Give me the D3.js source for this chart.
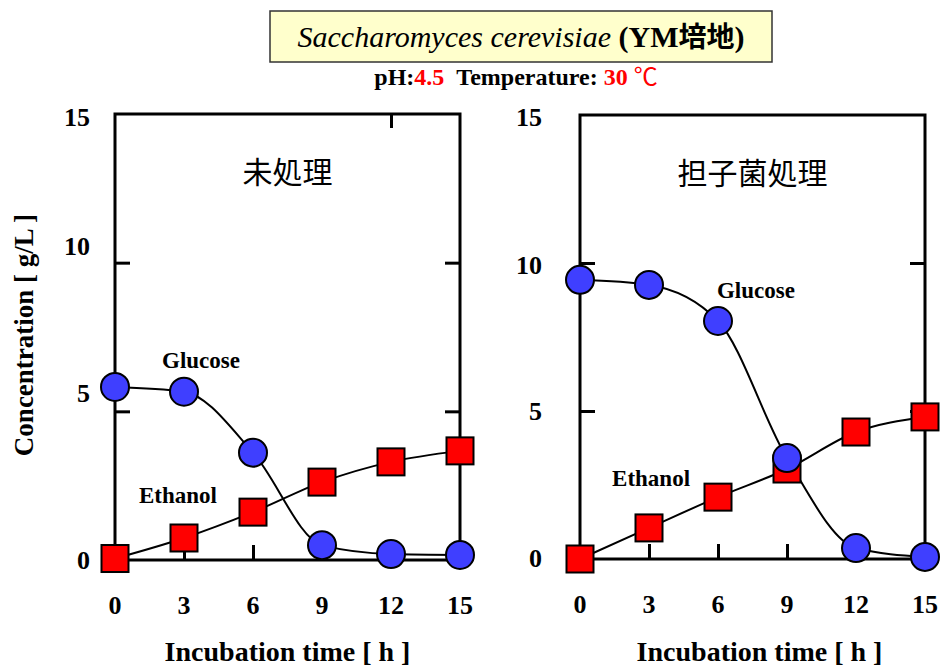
<!DOCTYPE html>
<html>
<head>
<meta charset="utf-8">
<script src="https://cdn.jsdelivr.net/npm/d3@7"></script>
<style>
  body { margin: 0; background: #fff; }
  svg { display: block; }
</style>
</head>
<body>
<svg id="chart" width="941" height="666"></svg>
<script>
// Sampling times (h)
const times = [0, 3, 6, 9, 12, 15];

// Untreated medium (g/L)
const glucoseUntreated = [5.82, 5.66, 3.61, 0.50, 0.20, 0.17];
const ethanolUntreated = [0.05, 0.74, 1.61, 2.62, 3.30, 3.67];

// Basidiomycete-treated medium (g/L)
const glucoseTreated = [9.43, 9.26, 8.04, 3.41, 0.37, 0.07];
const ethanolTreated = [0.00, 1.05, 2.09, 3.04, 4.29, 4.80];

// Axis ticks
const xTickLabels = [0, 3, 6, 9, 12, 15];
const yTickLabels = [0, 5, 10, 15];
const panelTitles = ["未処理", "担子菌処理"];
const seriesNames = ["Glucose", "Ethanol"];

const serif = "'Liberation Serif', 'Times New Roman', 'Noto Sans CJK JP', serif";
const cjk = "'Noto Sans CJK JP', 'Noto Sans CJK SC', sans-serif";

const svg = d3.select("#chart");

// ---- heading ----
svg.append("rect")
  .attr("x", 270).attr("y", 11).attr("width", 502).attr("height", 51)
  .attr("fill", "#ffffcc").attr("stroke", "#333").attr("stroke-width", 1.5);

const head = svg.append("text")
  .attr("x", 521).attr("y", 47)
  .attr("text-anchor", "middle")
  .attr("font-family", serif)
  .attr("font-size", 30)
  .attr("fill", "#000");
head.append("tspan").attr("font-style", "italic").text("Saccharomyces cerevisiae");
head.append("tspan").attr("font-weight", "bold").text(" (YM");
head.append("tspan").attr("font-family", cjk).attr("font-weight", "bold").attr("font-size", 28).text("培地");
head.append("tspan").attr("font-weight", "bold").text(")");

const sub = svg.append("text")
  .attr("x", 516).attr("y", 85)
  .attr("text-anchor", "middle")
  .attr("font-family", serif)
  .attr("font-weight", "bold")
  .attr("font-size", 24);
sub.append("tspan").attr("fill", "#000").text("pH:");
sub.append("tspan").attr("fill", "#ff0000").text("4.5");
sub.append("tspan").attr("fill", "#000").text("\u00a0\u00a0Temperature:\u00a0");
sub.append("tspan").attr("fill", "#ff0000").text("30\u00a0");
sub.append("tspan").attr("fill", "#ff0000").attr("font-family", cjk).attr("font-weight", "normal").text("℃");

// ---- panels ----
const panels = [
  {
    x0: 115, x1: 460, y0: 114, y1: 560,
    title: panelTitles[0],
    glucose: glucoseUntreated, ethanol: ethanolUntreated,
    labelRight: 90,
    labelShift: { 0: 0, 5: -18, 10: -17, 15: 3 },
    topTicks: [12],
    xTitleShift: 0,
    glucoseLabel: [3.74, 6.73], ethanolLabel: [2.74, 2.19]
  },
  {
    x0: 580, x1: 925, y0: 115, y1: 559,
    title: panelTitles[1],
    glucose: glucoseTreated, ethanol: ethanolTreated,
    labelRight: 542,
    labelShift: { 0: -1, 5: 0, 10: 2, 15: 2 },
    topTicks: [],
    xTitleShift: 7,
    glucoseLabel: [7.65, 9.09], ethanolLabel: [3.09, 2.74]
  }
];

panels.forEach(p => {
  const x = d3.scaleLinear().domain([0, 15]).range([p.x0, p.x1]);
  const y = d3.scaleLinear().domain([0, 15]).range([p.y1, p.y0]);
  const g = svg.append("g");

  // inward tick marks on every side
  const tickStyle = sel => {
    sel.select(".domain").remove();
    sel.selectAll(".tick line").attr("stroke", "#000").attr("stroke-width", 3);
  };
  g.append("g").attr("transform", `translate(0,${p.y1})`)
    .call(d3.axisBottom(x).tickValues([3, 6, 9, 12]).tickSize(-15).tickFormat(""))
    .call(tickStyle);
  if (p.topTicks.length) {
    g.append("g").attr("transform", `translate(0,${p.y0})`)
      .call(d3.axisTop(x).tickValues(p.topTicks).tickSize(-14).tickFormat(""))
      .call(tickStyle);
  }
  g.append("g").attr("transform", `translate(${p.x0},0)`)
    .call(d3.axisLeft(y).tickValues([5, 10]).tickSize(-15).tickFormat(""))
    .call(tickStyle);
  g.append("g").attr("transform", `translate(${p.x1},0)`)
    .call(d3.axisRight(y).tickValues([5, 10]).tickSize(-15).tickFormat(""))
    .call(tickStyle);

  // frame
  g.append("rect")
    .attr("x", p.x0).attr("y", p.y0)
    .attr("width", p.x1 - p.x0).attr("height", p.y1 - p.y0)
    .attr("fill", "none").attr("stroke", "#000").attr("stroke-width", 3);

  // tick labels
  g.selectAll(".xl").data(xTickLabels).join("text")
    .attr("x", d => x(d)).attr("y", p.y1 + 54)
    .attr("text-anchor", "middle")
    .attr("font-family", serif).attr("font-weight", "bold").attr("font-size", 26)
    .text(d => d);
  g.selectAll(".yl").data(yTickLabels).join("text")
    .attr("x", p.labelRight).attr("y", d => y(d) + p.labelShift[d])
    .attr("dy", "0.34em")
    .attr("text-anchor", "end")
    .attr("font-family", serif).attr("font-weight", "bold").attr("font-size", 26)
    .text(d => d);

  // axis title
  g.append("text")
    .attr("x", (p.x0 + p.x1) / 2 + p.xTitleShift).attr("y", 661)
    .attr("text-anchor", "middle")
    .attr("font-family", serif).attr("font-weight", "bold").attr("font-size", 28)
    .text("Incubation time [ h ]");

  // panel title
  g.append("text")
    .attr("x", (p.x0 + p.x1) / 2).attr("y", p.y0 + 58)
    .attr("dy", "0.35em")
    .attr("text-anchor", "middle")
    .attr("font-family", cjk).attr("font-size", 30)
    .text(p.title);

  // series labels
  [[seriesNames[0], p.glucoseLabel], [seriesNames[1], p.ethanolLabel]].forEach(([name, pos]) => {
    g.append("text")
      .attr("x", x(pos[0])).attr("y", y(pos[1]))
      .attr("dy", "0.35em")
      .attr("text-anchor", "middle")
      .attr("font-family", serif).attr("font-weight", "bold").attr("font-size", 23)
      .text(name);
  });

  // curves
  const line = d3.line().x(d => x(d[0])).y(d => y(d[1])).curve(d3.curveMonotoneX);
  const gl = times.map((t, i) => [t, p.glucose[i]]);
  const et = times.map((t, i) => [t, p.ethanol[i]]);
  g.append("path").attr("d", line(et)).attr("fill", "none").attr("stroke", "#000").attr("stroke-width", 2);
  g.append("path").attr("d", line(gl)).attr("fill", "none").attr("stroke", "#000").attr("stroke-width", 2);

  // ethanol squares
  const s = 27;
  g.selectAll(".sq").data(et).join("rect")
    .attr("x", d => x(d[0]) - s / 2).attr("y", d => y(d[1]) - s / 2)
    .attr("width", s).attr("height", s)
    .attr("fill", "#ff0000").attr("stroke", "#000").attr("stroke-width", 2);

  // glucose circles
  g.selectAll(".ci").data(gl).join("circle")
    .attr("cx", d => x(d[0])).attr("cy", d => y(d[1]))
    .attr("r", 14)
    .attr("fill", "#3f3fff").attr("stroke", "#000").attr("stroke-width", 2);
});

// shared y-axis title
svg.append("text")
  .attr("transform", "translate(24,335) rotate(-90)")
  .attr("dy", "0.35em")
  .attr("text-anchor", "middle")
  .attr("font-family", serif).attr("font-weight", "bold").attr("font-size", 27)
  .text("Concentration [ g/L ]");
</script>
</body>
</html>
